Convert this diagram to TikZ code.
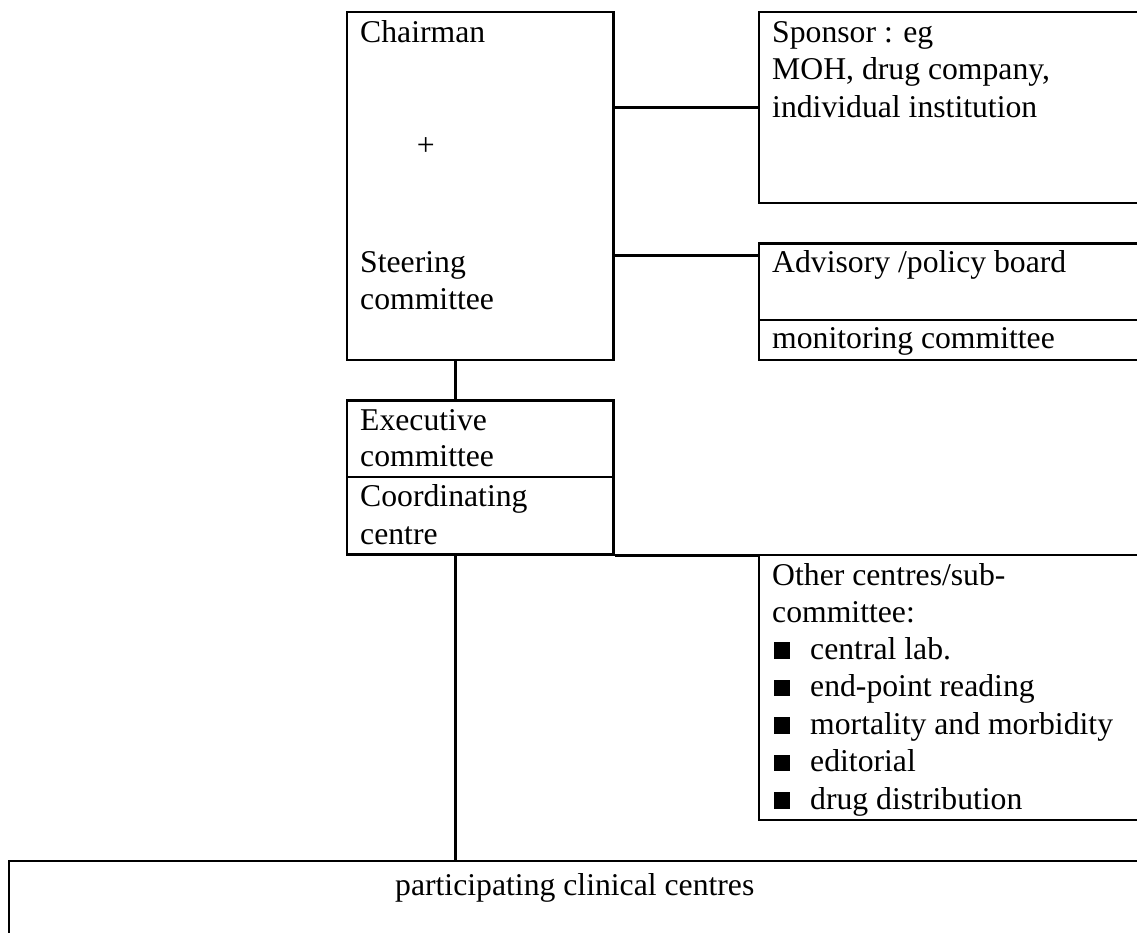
\documentclass[tikz,border=0pt]{standalone}
\usepackage{fontspec}
\setmainfont{Liberation Serif}
\usetikzlibrary{calc}
\begin{document}
\begin{tikzpicture}[x=1pt,y=-1pt,
  box/.style={draw, line width=2.3pt, inner sep=0pt, anchor=north west},
  txt/.style={anchor=base west, inner sep=0pt, font=\fontsize{31.7}{37}\selectfont},
  bul/.style={fill=black, inner sep=0pt, minimum size=16.5pt, anchor=south west},
  conn/.style={line width=2.5pt}]
\useasboundingbox (0,0) rectangle (1137,932);
\clip (0,0) rectangle (1137,932);
% boxes
\node[box, minimum width=266.6pt, minimum height=348pt] (chair) at (345.7,11) {};
\node[box, minimum width=500pt, minimum height=190.7pt] (sponsor) at (757.7,11) {};
\node[box, minimum width=500pt, minimum height=76.7pt] (adv) at (757.7,242.3) {};
\node[box, minimum width=500pt, minimum height=40pt] (mon) at (757.7,319) {};
\node[box, minimum width=266.6pt, minimum height=76.7pt] (exec) at (345.7,399.3) {};
\node[box, minimum width=266.6pt, minimum height=77.3pt] (coord) at (345.7,476) {};
\node[box, minimum width=500pt, minimum height=265pt] (other) at (757.7,554) {};
\node[box, minimum width=1300pt, minimum height=200pt] (part) at (7.7,860) {};
% texts
\node[txt] (t1) at (360,42.3) {Chairman};
\node[txt] (t2) at (416.7,155.7) {+};
\node[txt] (t3) at (360,272.3) {Steering};
\node[txt] (t4) at (360,309.5) {committee};
\node[txt] (s1) at (772,42.3) {Sponsor : eg};
\node[txt] (s2) at (772,79.7) {MOH, drug company,};
\node[txt] (s3) at (772,117.2) {individual institution};
\node[txt] (a1) at (772,272.3) {Advisory /policy board};
\node[txt] (m1) at (772,348.3) {monitoring committee};
\node[txt] (e1) at (360,430) {Executive};
\node[txt] (e2) at (360,466) {committee};
\node[txt] (c1) at (360,506.7) {Coordinating};
\node[txt] (c2) at (360,544.3) {centre};
\node[txt] (o1) at (772,585.7) {Other centres/sub-};
\node[txt] (o2) at (772,622.3) {committee:};
\node[bul] (b1) at (773.3,658.8) {};
\node[txt] (o3) at (810,659.3) {central lab.};
\node[bul] (b2) at (773.3,696.2) {};
\node[txt] (o4) at (810,696.7) {end-point reading};
\node[bul] (b3) at (773.3,733.8) {};
\node[txt] (o5) at (810,734.3) {mortality and morbidity};
\node[bul] (b4) at (773.3,771.2) {};
\node[txt] (o6) at (810,771.7) {editorial};
\node[bul] (b5) at (773.3,808.8) {};
\node[txt] (o7) at (810,809.3) {drug distribution};
\node[txt] (p1) at (395,895) {participating clinical centres};
% connectors
\draw[conn] (chair.east |- sponsor.west) -- (sponsor.west);
\coordinate (advc) at ($(adv.north west)+(0,13.4)$);
\draw[conn] (chair.east |- advc) -- (advc);
\coordinate (v1) at ($(chair.south west)!0.408!(chair.south east)$);
\draw[conn] (v1) -- (v1 |- exec.north);
\draw[conn] (coord.south east) -- (coord.south east -| other.west);
\coordinate (v2) at ($(coord.south west)!0.408!(coord.south east)$);
\draw[conn] (v2) -- (v2 |- part.north);
\end{tikzpicture}
\end{document}
